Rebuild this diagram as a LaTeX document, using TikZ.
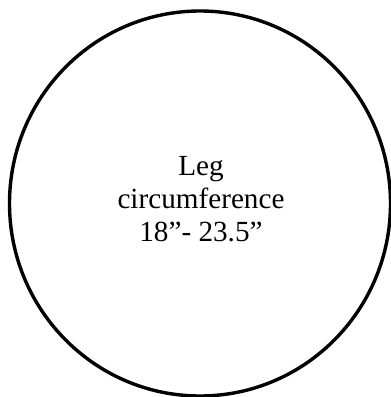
\documentclass[tikz,border=0pt]{standalone}
\usepackage{fontspec}
\setmainfont{Liberation Serif}
\usetikzlibrary{positioning,shapes.geometric}

\begin{document}
\begin{tikzpicture}[x=1pt,y=1pt,
    legcircle/.style={ellipse, draw, line width=3.4pt, inner sep=0pt, minimum width=381pt, minimum height=385pt},
    legtext/.style={align=center, font=\fontsize{29.2}{33.4}\selectfont}]
      \useasboundingbox (0,0) rectangle (391,397);
      \node[legcircle] (leg) at (200,193.5) {};
      \node[legtext, anchor=base] (label) at (201,155) {Leg\\circumference\\18”- 23.5”};
    \end{tikzpicture}
\end{document}
